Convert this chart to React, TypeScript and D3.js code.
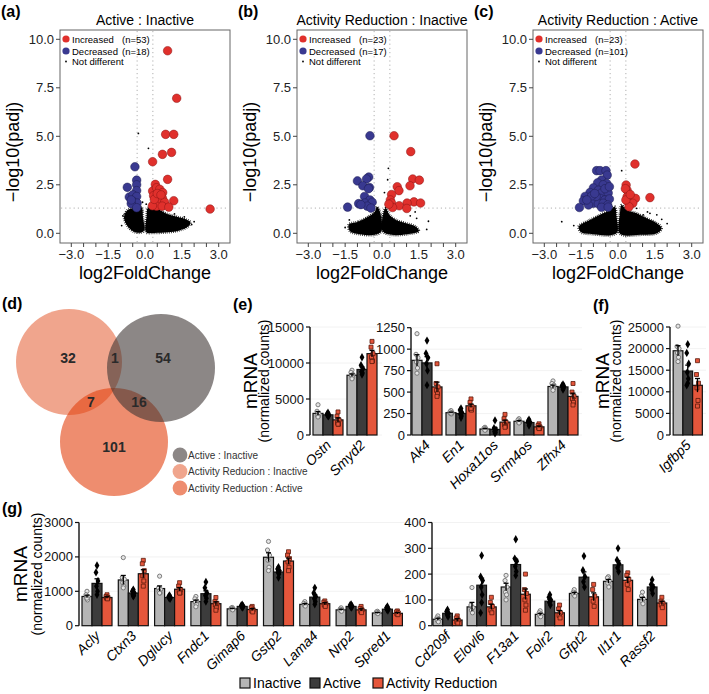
import React from "react";
import * as d3 from "d3";

type Pt = [number, number];

const FONT = "'Liberation Sans', Arial, Helvetica, sans-serif";

// ---------------- (a)-(c) volcano plots ----------------
const volcanoLabels = ["(a)", "(b)", "(c)"];
const volcanoTitles = ["Active : Inactive", "Activity Reduction : Inactive", "Activity Reduction : Active"];
const increasedCounts = [53, 23, 23];
const decreasedCounts = [18, 17, 101];
const volcanoXTicks = [-3, -1.5, 0, 1.5, 3];
const volcanoXMinorTicks = [-3, -2.5, -2, -1.5, -1, -0.5, 0, 0.5, 1, 1.5, 2, 2.5, 3];
const volcanoYTicks = [0, 2.5, 5, 7.5, 10];
const lfcThreshold = 0.32;
const padjThreshold = 1.3;

const increasedA: Pt[] = [[0.92, 9.41], [1.29, 6.96], [0.84, 5.1], [1.17, 5.1], [0.71, 4.07], [1.08, 4.17], [0.31, 3.69], [0.92, 2.78], [0.42, 2.52], [2.65, 1.25], [1.17, 1.68], [0.31, 2.18], [0.47, 2.35], [0.6, 2.27], [0.72, 2.1], [0.35, 1.94], [0.55, 1.86], [0.71, 1.8], [0.42, 1.6], [0.6, 1.58], [0.8, 1.6], [0.47, 1.4], [0.7, 1.4], [0.97, 1.35], [0.3, 1.42], [0.38, 1.75], [0.5, 2.05], [0.65, 1.98]];
const decreasedA: Pt[] = [[-0.41, 3.43], [-0.34, 2.74], [-0.34, 2.5], [-0.34, 2.2], [-0.72, 2.37], [-0.64, 1.87], [-0.49, 1.98], [-0.34, 1.9], [-0.49, 1.64], [-0.32, 1.56], [-0.56, 1.53], [-0.34, 1.32], [-0.56, 1.72]];
const otherA: Pt[] = [[-0.27, 5.15], [0.14, 4.38], [-0.9, 0.9], [1.9, 0.45], [2.0, 0.6], [-0.95, 0.4], [1.6, 0.85], [1.2, 1.0], [-0.1, 1.6], [0.05, 1.5]];
const cloudLeftA: Pt[] = [[-0.85, 0.75], [-0.82, 1.0], [-0.7, 1.2], [-0.45, 1.3], [-0.15, 1.35], [-0.08, 0.8], [-0.04, 0.15], [-0.2, 0.03], [-0.45, 0.08], [-0.7, 0.35]];
const cloudRightA: Pt[] = [[0.05, 0.05], [0.07, 0.9], [0.12, 1.3], [0.5, 1.25], [0.9, 1.0], [1.3, 0.85], [1.7, 0.7], [1.85, 0.55], [1.75, 0.35], [1.4, 0.15], [0.9, 0.05], [0.3, 0.02]];

const increasedB: Pt[] = [[0.49, 5.03], [1.17, 4.21], [1.25, 2.8], [1.52, 2.74], [1.14, 2.45], [0.62, 2.4], [0.69, 2.2], [0.39, 2.0], [0.34, 1.72], [1.3, 1.62], [1.02, 1.56], [1.57, 1.56], [0.39, 1.56], [0.7, 1.42], [1.01, 1.28], [0.43, 1.33], [0.28, 1.5]];
const decreasedB: Pt[] = [[-0.49, 5.03], [-1.0, 2.7], [-0.54, 2.9], [-0.63, 2.8], [-0.78, 2.45], [-0.51, 2.36], [-0.71, 1.9], [-0.49, 1.72], [-0.95, 1.53], [-0.7, 1.56], [-0.4, 1.6], [-0.6, 1.4], [-0.45, 1.3], [-1.4, 1.35], [-0.86, 1.48], [-0.55, 2.3]];
const otherB: Pt[] = [[0.26, 3.35], [0.23, 2.76], [-1.33, 0.69], [1.35, 1.1], [1.41, 0.77], [1.82, 0.2], [1.89, 0.62], [-1.5, 0.3], [1.15, 0.9], [0.1, 2.1]];
const cloudLeftB: Pt[] = [[-1.35, 0.45], [-0.97, 0.6], [-0.55, 0.86], [-0.3, 1.1], [-0.2, 1.37], [-0.06, 1.0], [-0.03, 0.1], [-0.3, -0.08], [-0.9, -0.05], [-1.3, 0.1]];
const cloudRightB: Pt[] = [[0.03, 0.1], [0.05, 1.0], [0.15, 1.3], [0.3, 0.95], [0.55, 0.7], [0.94, 0.53], [1.35, 0.36], [1.5, 0.12], [1.0, -0.05], [0.4, -0.08]];

const increasedC: Pt[] = [[0.69, 3.57], [1.3, 1.84], [0.33, 2.49], [0.37, 2.22], [0.37, 1.88], [0.53, 1.77], [0.71, 1.8], [0.4, 1.63], [0.6, 1.55], [0.45, 1.37], [0.32, 1.72], [0.3, 2.3], [0.5, 2.0]];
const decreasedC: Pt[] = [[-0.87, 3.23], [-0.73, 3.23], [-0.49, 3.23], [-0.44, 3.0], [-0.67, 2.75], [-0.83, 2.6], [-0.46, 2.57], [-0.6, 2.5], [-1.0, 2.34], [-0.8, 2.22], [-1.14, 2.1], [-0.67, 2.08], [-0.4, 2.08], [-1.34, 1.9], [-1.17, 1.72], [-0.93, 1.76], [-0.73, 1.8], [-0.53, 1.72], [-0.35, 1.77], [-1.41, 1.67], [-1.0, 1.55], [-0.8, 1.52], [-0.6, 1.55], [-0.42, 1.46], [-1.57, 1.33], [-1.2, 1.46], [-0.67, 1.34], [-0.89, 1.9], [-1.07, 1.93], [-0.53, 2.3], [-1.27, 1.72], [-0.35, 2.4], [-0.95, 2.05], [-0.4, 1.35]];
const otherC: Pt[] = [[-2.29, 0.6], [1.78, 0.72], [1.03, 0.95], [0.15, 3.23], [1.3, 1.03], [1.58, 0.95], [0.76, 1.29], [2.0, 0.5], [-1.8, 0.4], [1.2, 1.1]];
const cloudLeftC: Pt[] = [[-1.6, 0.35], [-1.14, 0.69], [-0.73, 0.95], [-0.33, 1.2], [-0.13, 1.37], [-0.06, 0.86], [-0.03, 0.05], [-0.3, -0.1], [-1.0, -0.05], [-1.5, 0.05]];
const cloudRightC: Pt[] = [[0.04, 0.05], [0.08, 1.03], [0.15, 1.46], [0.35, 1.2], [0.76, 1.03], [1.17, 0.77], [1.58, 0.52], [1.78, 0.26], [1.58, 0.0], [0.9, -0.08], [0.22, -0.1]];

// ---------------- (d) Venn ----------------
const vennLegendLabels = ["Active : Inactive", "Activity Reducion : Inactive", "Activity Reduction : Active"];
const vennCounts = [32, 1, 54, 7, 16, 101];

// ---------------- bar charts ----------------
const conditionNames = ["Inactive", "Active", "Activity Reduction"];

const e1Genes = ["Ostn", "Smyd2"];
const e1Inactive = [3000, 8300];
const e1Active = [2800, 9100];
const e1Reduction = [2100, 11300];
const e1InactivePts = [[4200, 3300, 2900, 2700, 2600, 2500], [9000, 8700, 8400, 8200, 8000, 7800]];
const e1ActivePts = [[3100, 2900, 2800, 2700, 2600, 2700], [10800, 9700, 9200, 8800, 8600, 8400]];
const e1ReductionPts = [[3200, 2600, 2100, 1700, 1500, 1500], [13000, 12200, 11300, 10800, 10300, 10200]];

const e2Genes = ["Ak4", "En1", "Hoxa11os", "Srrm4os", "Zfhx4"];
const e2Inactive = [870, 260, 70, 160, 565];
const e2Active = [840, 250, 65, 145, 560];
const e2Reduction = [560, 340, 150, 95, 450];
const e2InactivePts = [[1180, 940, 900, 850, 780, 720], [285, 270, 260, 250, 245, 255], [90, 80, 70, 65, 60, 55], [190, 175, 160, 150, 145, 140], [630, 600, 580, 560, 540, 520]];
const e2ActivePts = [[1100, 950, 900, 830, 750, 580], [310, 290, 260, 240, 220, 200], [170, 80, 60, 40, 30, 20], [180, 160, 150, 140, 130, 110], [590, 575, 565, 555, 545, 530]];
const e2ReductionPts = [[830, 600, 560, 520, 480, 450], [420, 380, 330, 300, 290, 310], [240, 190, 150, 120, 100, 90], [130, 110, 95, 85, 75, 75], [600, 500, 450, 420, 380, 350]];

const fGenes = ["Igfbp5"];
const fInactive = [19500];
const fActive = [14800];
const fReduction = [11500];
const fInactivePts = [[25200, 20500, 20000, 19000, 18000, 17000]];
const fActivePts = [[21000, 19000, 16500, 14500, 13000, 12000, 11500]];
const fReductionPts = [[17200, 14000, 12000, 10900, 8000, 6700]];

const gLeftGenes = ["Acly", "Ctxn3", "Dglucy", "Fndc1", "Gimap6", "Gstp2", "Lama4", "Nrp2", "Spred1"];
const gLeftInactive = [850, 1330, 1080, 700, 490, 1990, 620, 460, 370];
const gLeftActive = [1230, 950, 820, 930, 560, 1560, 830, 560, 480];
const gLeftReduction = [820, 1510, 1060, 640, 470, 1880, 640, 460, 360];
const gLeftInactivePts = [[1000, 900, 850, 800, 750, 800], [1980, 1400, 1350, 1250, 1150, 1100], [1440, 1100, 1050, 1000, 950, 950], [850, 780, 720, 680, 620, 550], [530, 510, 490, 480, 460], [2450, 2200, 2050, 1900, 1700, 1600], [700, 650, 620, 600, 570], [520, 480, 460, 440, 420], [420, 400, 380, 370, 350]];
const gLeftActivePts = [[1750, 1550, 1300, 1150, 1000, 900], [1050, 1000, 950, 900, 880, 850], [880, 850, 820, 800, 780], [1270, 1100, 950, 880, 800, 700], [610, 590, 570, 550, 530], [1700, 1650, 1600, 1550, 1500, 1400], [1100, 950, 850, 780, 700, 620], [620, 600, 570, 550, 530], [560, 520, 490, 470, 440]];
const gLeftReductionPts = [[900, 850, 820, 800, 780], [1900, 1800, 1600, 1450, 1300, 1150], [1250, 1150, 1050, 1000, 950, 950], [820, 700, 650, 600, 520, 450], [560, 520, 460, 430, 400], [2150, 2050, 1950, 1850, 1700, 1600], [720, 680, 640, 600, 560], [560, 500, 460, 420, 380], [430, 400, 370, 340, 320]];

const gRightGenes = ["Cd209f", "Elovl6", "F13a1", "Folr2", "Gfpt2", "Il1r1", "Rassf2"];
const gRightInactive = [25, 73, 150, 44, 125, 172, 102];
const gRightActive = [48, 157, 237, 95, 188, 236, 150];
const gRightReduction = [22, 73, 122, 50, 112, 176, 88];
const gRightInactivePts = [[38, 30, 25, 20, 15], [148, 80, 70, 60, 50], [195, 175, 150, 130, 120, 100], [58, 50, 45, 40, 35], [140, 130, 125, 120, 115], [190, 185, 175, 165, 150], [130, 115, 105, 95, 85]];
const gRightActivePts = [[62, 55, 48, 42, 35], [272, 190, 175, 150, 120, 90, 50], [335, 260, 250, 230, 210, 195], [120, 110, 100, 90, 80], [270, 215, 190, 170, 150], [300, 255, 240, 225, 210], [178, 160, 150, 140, 125]];
const gRightReductionPts = [[38, 30, 22, 15, 10], [110, 90, 75, 60, 50], [200, 140, 125, 100, 80, 60], [80, 65, 50, 40, 30], [160, 140, 115, 95, 75], [205, 195, 180, 160, 140], [110, 95, 88, 80, 70]];

// ---------------- styles ----------------
const RED = "#e0302c";
const BLUE = "#393990";
const BAR_COLORS = ["#b5b5b5", "#3c3c3c", "#e5563b"];
const VENN_C1 = "#e66941";
const VENN_C2 = "#3f3735";
const VENN_C3 = "#e3410f";
const VENN_OPACITY = 0.6;
const JITTER = [0, -1, 1, -0.5, 0.5, 0, -1, 1];

function Volcano(props: {
  left: number; label: string; title: string; inc: Pt[]; dec: Pt[]; others: Pt[];
  cloudL: Pt[]; cloudR: Pt[]; nInc: number; nDec: number;
}) {
  const { left } = props;
  const right = left + 170;
  const top = 30;
  const bottom = 243;
  const x = d3.scaleLinear().domain([-3.46, 3.46]).range([left, right]);
  const y = d3.scaleLinear().domain([-0.5, 10.48]).range([bottom, top]);
  const blob = d3.line<Pt>().x((d) => x(d[0])).y((d) => y(d[1])).curve(d3.curveCatmullRomClosed.alpha(0.5));
  const fmt = d3.format(".1f");
  const cx = (left + right) / 2;
  return (
    <g>
      <text x={left - 59} y={17} fontSize={16} fontWeight="bold">{props.label}</text>
      <text x={cx} y={25} textAnchor="middle" fontSize={14}>{props.title}</text>
      <rect x={left} y={top} width={right - left} height={bottom - top} fill="#fff" stroke="#666" strokeWidth={1} />
      <line x1={x(-lfcThreshold)} x2={x(-lfcThreshold)} y1={top + 1} y2={bottom - 1} stroke="#b0b0b0" strokeDasharray="1.2 3" />
      <line x1={x(lfcThreshold)} x2={x(lfcThreshold)} y1={top + 1} y2={bottom - 1} stroke="#b0b0b0" strokeDasharray="1.2 3" />
      <line x1={left + 1} x2={right - 1} y1={y(padjThreshold)} y2={y(padjThreshold)} stroke="#b0b0b0" strokeDasharray="1.2 3" />
      {[props.cloudL, props.cloudR].map((c, i) => (
        <path key={i} d={blob(c) || ""} fill="#000" stroke="#000" strokeWidth={2.6} strokeDasharray="0.7 1.3" />
      ))}
      {props.others.map((d, i) => (
        <circle key={i} cx={x(d[0])} cy={y(d[1])} r={0.9} fill="#000" />
      ))}
      {props.dec.map((d, i) => (
        <circle key={i} cx={x(d[0])} cy={y(d[1])} r={4.3} fill={BLUE} stroke="#1c1c50" strokeWidth={0.5} />
      ))}
      {props.inc.map((d, i) => (
        <circle key={i} cx={x(d[0])} cy={y(d[1])} r={4.3} fill={RED} stroke="#8a1515" strokeWidth={0.5} />
      ))}
      {/* legend */}
      <circle cx={left + 6} cy={39} r={3.6} fill={RED} />
      <text x={left + 12} y={42.5} fontSize={9.5}>Increased</text>
      <text x={left + 62} y={42.5} fontSize={9.5}>{`(n=${props.nInc})`}</text>
      <circle cx={left + 6} cy={51} r={3.6} fill={BLUE} />
      <text x={left + 12} y={54.5} fontSize={9.5}>Decreased</text>
      <text x={left + 62} y={54.5} fontSize={9.5}>{`(n=${props.nDec})`}</text>
      <circle cx={left + 6} cy={61.5} r={0.9} fill="#000" />
      <text x={left + 12} y={65} fontSize={9.5}>Not different</text>
      {/* y axis */}
      {volcanoYTicks.map((t) => (
        <g key={t}>
          <line x1={left - 4} x2={left} y1={y(t)} y2={y(t)} stroke="#444" />
          <text x={left - 6} y={y(t)} dy="0.35em" textAnchor="end" fontSize={13} fill="#222">{fmt(t)}</text>
        </g>
      ))}
      <text transform={`translate(${left - 47},152) rotate(-90)`} textAnchor="middle" dy="0.35em" fontSize={18}>
        {"\u2212log10(padj)"}
      </text>
      {/* x axis */}
      {volcanoXMinorTicks.map((t) => (
        <line key={t} x1={x(t)} x2={x(t)} y1={bottom} y2={bottom + 4} stroke="#444" />
      ))}
      {volcanoXTicks.map((t) => (
        <text key={t} x={x(t)} y={259} textAnchor="middle" fontSize={13} fill="#222">{fmt(t)}</text>
      ))}
      <text x={cx} y={279} textAnchor="middle" fontSize={18}>log2FoldChange</text>
    </g>
  );
}

function sem(a: number[]) {
  return (d3.deviation(a) || 0) / Math.sqrt(a.length);
}

function BarPanel(props: {
  axisX: number; top: number; bottom: number; max: number; ticks: number[]; genes: string[];
  start: number; step: number; bw: number; means: number[][]; pts: number[][][]; gridRight: number;
}) {
  const { axisX, top, bottom, max, ticks, genes, start, step, bw, means, pts, gridRight } = props;
  const y = d3.scaleLinear().domain([0, max]).range([bottom, top]);
  const pi = (step - 3 * bw) / step;
  const x0 = d3.scaleBand<string>().domain(genes).range([start, start + step * (genes.length - pi)]).paddingInner(pi).paddingOuter(0);
  const x1 = d3.scaleBand<number>().domain([0, 1, 2]).range([0, x0.bandwidth()]).padding(0);
  const diamond = d3.symbol().type(d3.symbolDiamond).size(20)() || "";
  const square = d3.symbol().type(d3.symbolSquare).size(16)() || "";
  return (
    <g>
      {ticks.map((t) => (
        <line key={"g" + t} x1={axisX} x2={gridRight} y1={y(t)} y2={y(t)} stroke="#efefef" strokeWidth={0.8} />
      ))}
      {genes.map((g, gi) =>
        [0, 1, 2].map((k) => {
          const bx = (x0(g) || 0) + (x1(k) || 0);
          const m = means[k][gi];
          const p = pts[k][gi];
          const s = sem(p);
          const c = bx + x1.bandwidth() / 2;
          return (
            <g key={g + k}>
              <rect x={bx} y={y(m)} width={x1.bandwidth()} height={y(0) - y(m)} fill={BAR_COLORS[k]} stroke="#111" strokeWidth={1.2} />
              {p.map((v, j) => {
                const px = c + JITTER[j % JITTER.length];
                const py = y(v);
                if (k === 0) return <circle key={j} cx={px} cy={py} r={2.1} fill="#e4e4e4" stroke="#707070" strokeWidth={0.9} />;
                if (k === 1) return <path key={j} d={diamond} transform={`translate(${px},${py})`} fill="#000" />;
                return <path key={j} d={square} transform={`translate(${px},${py})`} fill="#e5563b" stroke="#5a1a0c" strokeWidth={0.8} />;
              })}
              <line x1={c} x2={c} y1={y(m - s)} y2={y(m + s)} stroke="#000" strokeWidth={1.3} />
              <line x1={c - 2.5} x2={c + 2.5} y1={y(m + s)} y2={y(m + s)} stroke="#000" strokeWidth={1.3} />
            </g>
          );
        })
      )}
      <line x1={axisX} x2={axisX} y1={y(0)} y2={y(max)} stroke="#111" strokeWidth={1.4} />
      {ticks.map((t) => (
        <g key={t}>
          <line x1={axisX - 4} x2={axisX} y1={y(t)} y2={y(t)} stroke="#111" strokeWidth={1.2} />
          <text x={axisX - 6} y={y(t)} dy="0.35em" textAnchor="end" fontSize={13} fill="#111">{t}</text>
        </g>
      ))}
      {genes.map((g) => {
        const c = (x0(g) || 0) + x0.bandwidth() / 2;
        return (
          <text key={g} transform={`translate(${c + 4},${bottom + 11}) rotate(-45)`} textAnchor="end" fontSize={14} fontStyle="italic">
            {g}
          </text>
        );
      })}
    </g>
  );
}

function MrnaLabel({ x1, x2, cy }: { x1: number; x2: number; cy: number }) {
  return (
    <g>
      <text transform={`translate(${x1},${cy}) rotate(-90)`} textAnchor="middle" dy="0.35em" fontSize={19}>mRNA</text>
      <text transform={`translate(${x2},${cy}) rotate(-90)`} textAnchor="middle" dy="0.35em" fontSize={14}>(normalized counts)</text>
    </g>
  );
}

function Venn() {
  const circles = [
    { cx: 69, cy: 362, r: 53, color: VENN_C1 },
    { cx: 114, cy: 442, r: 54, color: VENN_C3 },
    { cx: 161, cy: 368, r: 54, color: VENN_C2 },
  ];
  const countPos: Pt[] = [[68, 358], [115, 358], [163, 358], [91, 402], [139, 402], [114, 447]];
  const legendColors = [VENN_C2, VENN_C1, VENN_C3];
  return (
    <g>
      {circles.map((c, i) => (
        <circle key={i} cx={c.cx} cy={c.cy} r={c.r} fill={c.color} fillOpacity={VENN_OPACITY} />
      ))}
      {vennCounts.map((n, i) => (
        <text key={i} x={countPos[i][0]} y={countPos[i][1]} dy="0.35em" textAnchor="middle" fontSize={14} fontWeight="bold" fill="#2a2a2a">{n}</text>
      ))}
      {vennLegendLabels.map((l, i) => (
        <g key={l}>
          <circle cx={180} cy={455 + i * 16.5} r={7.4} fill={legendColors[i]} fillOpacity={VENN_OPACITY} />
          <text x={188} y={455 + i * 16.5} dy="0.35em" fontSize={10} fill="#333">{l}</text>
        </g>
      ))}
    </g>
  );
}

export default function App() {
  const vLefts = [60, 297, 533];
  const volcanoData = [
    { inc: increasedA, dec: decreasedA, others: otherA, cl: cloudLeftA, cr: cloudRightA },
    { inc: increasedB, dec: decreasedB, others: otherB, cl: cloudLeftB, cr: cloudRightB },
    { inc: increasedC, dec: decreasedC, others: otherC, cl: cloudLeftC, cr: cloudRightC },
  ];
  const legendX = [240, 310, 373];
  return (
    <svg width={709} height={694} style={{ position: "absolute", left: 0, top: 0, fontFamily: FONT }}>
      <rect width={709} height={694} fill="#fff" />
      {volcanoData.map((v, i) => (
        <Volcano key={i} left={vLefts[i]} label={volcanoLabels[i]} title={volcanoTitles[i]} inc={v.inc} dec={v.dec}
          others={v.others} cloudL={v.cl} cloudR={v.cr} nInc={increasedCounts[i]} nDec={decreasedCounts[i]} />
      ))}

      <text x={2} y={309} fontSize={16} fontWeight="bold">(d)</text>
      <Venn />

      <text x={233} y={310} fontSize={16} fontWeight="bold">(e)</text>
      <MrnaLabel x1={250} x2={264} cy={381} />
      <BarPanel axisX={310} top={327} bottom={435} max={15000} ticks={[0, 5000, 10000, 15000]} genes={e1Genes}
        start={313} step={34} bw={10} means={[e1Inactive, e1Active, e1Reduction]} pts={[e1InactivePts, e1ActivePts, e1ReductionPts]} gridRight={382} />
      <BarPanel axisX={411} top={327.7} bottom={435} max={1250} ticks={[0, 250, 500, 750, 1000, 1250]} genes={e2Genes}
        start={412} step={34} bw={10} means={[e2Inactive, e2Active, e2Reduction]} pts={[e2InactivePts, e2ActivePts, e2ReductionPts]} gridRight={582} />

      <text x={593} y={311} fontSize={16} fontWeight="bold">(f)</text>
      <MrnaLabel x1={602} x2={616} cy={381} />
      <BarPanel axisX={670} top={327} bottom={435} max={25000} ticks={[0, 5000, 10000, 15000, 20000, 25000]} genes={fGenes}
        start={672} step={34} bw={10.5} means={[fInactive, fActive, fReduction]} pts={[fInactivePts, fActivePts, fReductionPts]} gridRight={706} />

      <text x={2} y={514} fontSize={16} fontWeight="bold">(g)</text>
      <MrnaLabel x1={20} x2={37} cy={574} />
      <BarPanel axisX={79} top={522.5} bottom={625.7} max={3000} ticks={[0, 1000, 2000, 3000]} genes={gLeftGenes}
        start={82} step={36.3} bw={10} means={[gLeftInactive, gLeftActive, gLeftReduction]} pts={[gLeftInactivePts, gLeftActivePts, gLeftReductionPts]} gridRight={405} />
      <BarPanel axisX={432} top={522.5} bottom={625.7} max={400} ticks={[0, 100, 200, 300, 400]} genes={gRightGenes}
        start={433} step={34.1} bw={9.7} means={[gRightInactive, gRightActive, gRightReduction]} pts={[gRightInactivePts, gRightActivePts, gRightReductionPts]} gridRight={670} />

      {conditionNames.map((n, i) => (
        <g key={n}>
          <rect x={legendX[i]} y={678} width={10} height={10} fill={BAR_COLORS[i]} stroke="#111" strokeWidth={1.2} />
          <text x={legendX[i] + 13} y={688} fontSize={14}>{n}</text>
        </g>
      ))}
    </svg>
  );
}
